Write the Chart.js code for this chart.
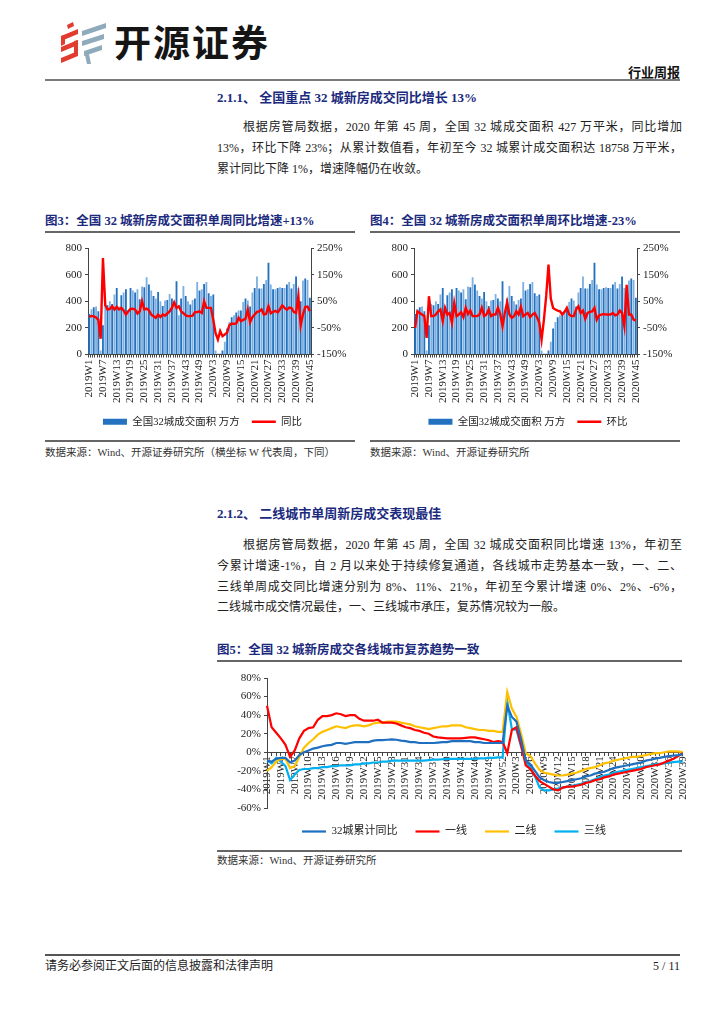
<!DOCTYPE html>
<html>
<head>
<meta charset="utf-8">
<script src="https://cdn.jsdelivr.net/npm/chart.js@4.4.0/dist/chart.umd.min.js"></script>
<style>
  body { margin: 0; width: 724px; height: 1024px; background: #fff; position: relative; overflow: hidden;
         font-family: "Liberation Serif", "Noto Sans CJK SC", serif; color: #222; }
  .abs { position: absolute; }
  .rule { position: absolute; background: #666; }
  .head { position: absolute; left: 217px; font-size: 13px; font-weight: bold; color: #1b2a7d; line-height: 16px; white-space: nowrap; }
  .fig { position: absolute; font-size: 12.5px; font-weight: bold; color: #1b2a7d; line-height: 16px; white-space: nowrap; }
  .txt { position: absolute; left: 217px; width: 465px; font-size: 12px; line-height: 14px;
         text-align: justify; text-align-last: justify; }
  .txt.last { text-align-last: left; }
  .src { position: absolute; font-size: 10.5px; line-height: 13px; color: #333; white-space: nowrap; }
</style>
</head>
<body>

<!-- header -->
<svg class="abs" style="left:58px;top:20px" width="52" height="46" viewBox="0 0 52 46">
  <polygon points="9,5 15,2 16,6 10,9" fill="#e23b2f"/>
  <polygon points="3,16 20,9 20,14 3,21" fill="#e23b2f"/>
  <polygon points="3,16 7,15 7,24 3,26" fill="#e23b2f"/>
  <polygon points="3,27 20,20 20,25 3,32" fill="#e23b2f"/>
  <polygon points="16,21 20,20 20,33 16,35" fill="#e23b2f"/>
  <polygon points="3,38 20,31 20,36 3,43" fill="#e23b2f"/>
  <polygon points="24,11 48,3 48,8 24,16" fill="#8eaabb"/>
  <polygon points="24,21 46,14 46,19 24,26" fill="#8eaabb"/>
  <polygon points="26,31 44,25 44,30 26,36" fill="#8eaabb"/>
  <polygon points="27,35 31,34 33,44 29,44" fill="#8eaabb"/>
</svg>
<div class="abs" style="left:114px;top:19px;font-family:'Noto Sans CJK SC';font-weight:bold;font-size:37px;line-height:44px;letter-spacing:2px;color:#151515">开源证券</div>
<div class="abs" style="right:44px;top:64px;font-family:'Noto Sans CJK SC';font-weight:bold;font-size:13px;line-height:16px;color:#111">行业周报</div>
<div class="rule" style="left:45px;top:79px;width:635px;height:2px;background:#7a7a7a"></div>

<!-- section 2.1.1 -->
<div class="head" style="top:90px">2.1.1、 全国重点 32 城新房成交同比增长 13%</div>
<div class="txt" style="top:120px;text-indent:26px">根据房管局数据，2020 年第 45 周，全国 32 城成交面积 427 万平米，同比增加</div>
<div class="txt" style="top:141px">13%，环比下降 23%；从累计数值看，年初至今 32 城累计成交面积达 18758 万平米，</div>
<div class="txt last" style="top:162px">累计同比下降 1%，增速降幅仍在收敛。</div>

<div class="fig" style="left:45px;top:213px">图3：全国 32 城新房成交面积单周同比增速+13%</div>
<div class="fig" style="left:370px;top:213px">图4：全国 32 城新房成交面积单周环比增速-23%</div>
<div class="rule" style="left:45px;top:231px;width:310px;height:1.5px"></div>
<div class="rule" style="left:370px;top:231px;width:310px;height:1.5px"></div>

<canvas id="chartYoy" class="abs" style="left:45px;top:236px" width="315" height="201"></canvas>
<canvas id="chartWow" class="abs" style="left:370px;top:236px" width="316" height="201"></canvas>

<div class="rule" style="left:45px;top:440px;width:310px;height:1.5px"></div>
<div class="rule" style="left:370px;top:440px;width:310px;height:1.5px"></div>
<div class="src" style="left:45px;top:446px">数据来源：Wind、开源证券研究所（横坐标 W 代表周，下同）</div>
<div class="src" style="left:370px;top:446px">数据来源：Wind、开源证券研究所</div>

<!-- section 2.1.2 -->
<div class="head" style="top:506px">2.1.2、 二线城市单周新房成交表现最佳</div>
<div class="txt" style="top:538px;text-indent:26px">根据房管局数据，2020 年第 45 周，全国 32 城成交面积同比增速 13%，年初至</div>
<div class="txt" style="top:559px">今累计增速-1%，自 2 月以来处于持续修复通道，各线城市走势基本一致，一、二、</div>
<div class="txt" style="top:580px">三线单周成交同比增速分别为 8%、11%、21%，年初至今累计增速 0%、2%、-6%，</div>
<div class="txt last" style="top:600px">二线城市成交情况最佳，一、三线城市承压，复苏情况较为一般。</div>

<div class="fig" style="left:217px;top:642px">图5：全国 32 城新房成交各线城市复苏趋势一致</div>
<div class="rule" style="left:217px;top:660px;width:465px;height:1.5px"></div>

<canvas id="chartTier" class="abs" style="left:217px;top:668px" width="480" height="179"></canvas>

<div class="rule" style="left:217px;top:850px;width:465px;height:1.5px"></div>
<div class="src" style="left:217px;top:854px">数据来源：Wind、开源证券研究所</div>

<!-- footer -->
<div class="rule" style="left:45px;top:954px;width:635px;height:2px;background:#555"></div>
<div class="abs" style="left:45px;top:959px;font-size:12px;line-height:14px;color:#222">请务必参阅正文后面的信息披露和法律声明</div>
<div class="abs" style="right:44px;top:959px;font-size:12px;line-height:14px;color:#222">5 / 11</div>

<script>
// 周度标签：2019W1 ~ 2020W45
const weekLabels = [];
for (let w = 1; w <= 52; w++) weekLabels.push('2019W' + w);
for (let w = 1; w <= 45; w++) weekLabels.push('2020W' + w);

// 全国32城成交面积（万方）
const area2019 = [305, 340, 355, 360, 325, 30, 220, 380, 370, 400,
                  380, 450, 500, 360, 445, 465, 490, 330, 500, 480,
                  465, 490, 415, 510, 505, 580, 525, 480, 440, 420,
                  470, 400, 365, 405, 410, 455, 420, 400, 550, 295,
                  420, 515, 440, 400, 375, 410, 420, 545, 480, 490,
                  530, 545];
const area2020 = [460, 440, 450, 30, 5, 8, 30, 95, 195, 245,
                  280, 295, 315, 330, 330, 395, 420, 405, 360, 465,
                  500, 585, 495, 495, 530, 560, 690, 525, 490, 490,
                  500, 505, 500, 500, 525, 545, 495, 530, 585, 500,
                  400, 555, 570, 560, 427];
const areaValues = area2019.concat(area2020);

// 单周同比（%）
const yoyValues = [-9, -5, -7, -11, -20, -91, 212, 35, 19, 21,
                   31, 19, 29, 19, 25, 15, 0, 12, 21, 22,
                   19, 4, 12, 50, 19, 22, 16, 0, -6, -12,
                   0, -9, 0, -4, 4, 12, 25, 46, 25, 31,
                   12, 5, -3, -6, -6, -4, 9, 9, 12, 6,
                   50, 25,
                   25, 25, -20, -70, -94, -62, -81, -75, -68, -40,
                   -34, -35, -33, -12, -25, -20, -16, 19, -29, -10,
                   0, 10, 12, 19, 0, 3, 31, 5, 10, 14,
                   8, 20, 34, 25, 18, 26, 24, 10, 6, 69,
                   -41, 0, 28, 30, 13];

// 单周环比（%）
const wowValues = [-50, 12, 6, 0, -6, -88, 69, -6, -6, 0,
                   12, 19, -25, 25, 0, 6, -31, 44, -6, 0,
                   9, -10, 25, 2, 15, -6, -6, -6, 0, 25,
                   -6, 0, 19, -6, 0, 0, 25, 2, -44, 6,
                   46, 0, -12, -6, 12, 0, 29, -6, 0, 6,
                   -10, 0, 6, -10, -30, -94, -20, 70, 188, 60,
                   25, 19, 15, 12, 0, 10, 25, 0, -6, -6,
                   19, 31, 6, 15, -16, 6, 10, 12, 25, -19,
                   -3, 0, 2, 0, 0, 0, 6, -3, 0, 15,
                   6, -44, 112, 0, 0, -19, -23];

const leftTicks = [0, 800, 100];
const rightTicks = [-150, 250, 50];

// 各线城市累计同比：2019W1 ~ 2020W39
const tierLabels = [];
for (let w = 1; w <= 52; w++) tierLabels.push('2019W' + w);
for (let w = 1; w <= 39; w++) tierLabels.push('2020W' + w);

const cum32 = [-9, -10, -7, -6, -6, -11, -9, -3, 0, 2,
               4, 5, 6.5, 7.5, 8, 10, 10, 9, 10, 11,
               11, 11, 11, 12.5, 13, 13, 13.5, 14, 13.5, 12.5,
               12, 11, 11, 10, 10, 10, 10, 10.5, 11, 11,
               12, 12, 12, 12, 12, 11, 11, 10, 10, 10,
               10, 10, 50, 38, 33, 14, -9, -13, -20, -27,
               -30, -32, -33, -33, -32, -31, -30, -29, -28, -26,
               -25, -23, -22, -21, -19, -17, -16, -15, -14, -13,
               -12, -11, -9, -8, -7, -6, -5, -4, -3.5, -3,
               -2];
const tier1 = [50, 27, 21, 15, 8, -5, 2, 15, 23, 26,
               27, 35, 39, 39, 40, 42, 41, 39, 40, 40,
               36, 34, 34, 34, 35, 32, 32, 32, 31, 29,
               27, 26, 24, 23, 21, 20, 17, 16, 15.5, 15,
               15, 15, 15, 15.5, 16, 16, 15, 14, 13, 11,
               12, 11, -1, 24, 27, 8, -14, -18, -25, -31,
               -34, -37, -40, -41, -38, -37, -37, -36, -35, -33,
               -32, -30, -29, -27, -26, -24, -23, -22, -21, -20,
               -19, -18, -16, -15, -14, -13, -11, -9, -7, -4,
               -1];
const tier2 = [-20, -16, -10, -7, -7, -17, -15, -5, 5, 10,
               14, 19, 22, 24, 26, 28, 27, 26, 28, 29,
               29, 28, 29, 31, 32, 32, 33, 33, 33, 32,
               31, 30, 28, 27, 26, 25, 26, 27, 28, 28,
               29, 29, 29, 27, 26, 25, 24, 24, 23, 23,
               22, 22, 65, 47, 38, 20, -1, -4, -12, -19,
               -22, -23, -24, -25, -25, -24, -23, -22, -20, -18,
               -17, -16, -14, -12, -11, -9, -8, -7, -6, -5,
               -5, -4, -3, -2, -1, -1, 0, 1, 1, 1,
               0];
const tier3 = [-9, -12, -6, -10, -15, -30, -24, -19, -18, -18,
               -17, -17, -16, -16, -15, -15, -14, -14, -14, -13,
               -13, -12, -12, -11, -11, -10, -10, -9, -9, -9,
               -9, -9, -9, -9, -9, -8.5, -8, -8, -7.5, -7,
               -7, -7, -7, -7, -7, -7, -6.5, -6.5, -6, -6,
               -5.5, -5.5, 55, 25, 24, 6, -11, -16, -26, -38,
               -41, -41, -40, -39, -38, -37, -36, -35, -34, -32,
               -31, -29, -27, -25, -24, -22, -21, -20, -19, -18,
               -17, -16, -15, -14, -13, -12.5, -12, -11, -10.5, -10,
               -10];
const tierTicks = [-60, 80, 20];

Chart.defaults.font.family = '"Liberation Serif", "Noto Sans CJK SC", serif';
Chart.defaults.font.size = 11;
Chart.defaults.color = '#222';
Chart.defaults.animation = false;

const axisLine = { display: true, drawOnChartArea: false, drawTicks: true, tickLength: 3, color: '#444' };

function weeklyChart(id, lineLabel, lineValues, leftWidth, rightWidth) {
    new Chart(document.getElementById(id), {
        data: {
            labels: weekLabels,
            datasets: [{
                type: 'line',
                label: lineLabel,
                data: lineValues,
                yAxisID: 'y1',
                borderColor: '#ff0000',
                backgroundColor: '#ff0000',
                borderWidth: 2.4,
                pointRadius: 0,
                pointStyle: 'line',
                tension: 0
            }, {
                type: 'bar',
                label: '全国32城成交面积 万方',
                data: areaValues,
                yAxisID: 'y',
                backgroundColor: c => c.dataIndex % 2 ? '#7eb0e0' : '#2371bf',
                pointStyle: 'rect',
                barPercentage: 0.8,
                categoryPercentage: 1
            }]
        },
        options: {
            responsive: false,
            layout: { padding: { top: 12, left: 0, right: 0, bottom: 0 } },
            plugins: {
                tooltip: { enabled: false },
                legend: {
                    position: 'bottom',
                    labels: {
                        usePointStyle: true,
                        pointStyleWidth: 24,
                        boxHeight: 6,
                        padding: 12,
                        font: { size: 10.5 },
                        sort: (a, b) => b.datasetIndex - a.datasetIndex
                    }
                }
            },
            scales: {
                x: {
                    grid: axisLine,
                    border: { color: '#444' },
                    ticks: {
                        autoSkip: false, maxRotation: 90, minRotation: 90, padding: 2,
                        callback: function(v, i) { return i % 6 === 0 ? this.getLabelForValue(v) : ''; }
                    },
                    afterFit: s => { s.height = 50; }
                },
                y: {
                    position: 'left',
                    min: leftTicks[0], max: leftTicks[1],
                    ticks: { stepSize: leftTicks[2], padding: 3 },
                    grid: axisLine,
                    border: { color: '#444' },
                    afterFit: s => { s.width = leftWidth; }
                },
                y1: {
                    position: 'right',
                    min: rightTicks[0], max: rightTicks[1],
                    ticks: { stepSize: rightTicks[2], padding: 3, callback: v => v + '%' },
                    grid: axisLine,
                    border: { color: '#444' },
                    afterFit: s => { s.width = rightWidth; }
                }
            }
        }
    });
}

weeklyChart('chartYoy', '同比', yoyValues, 43, 49);
weeklyChart('chartWow', '环比', wowValues, 44, 49);

const tierSeries = [
    { label: '32城累计同比', data: cum32, color: '#1f6fc1' },
    { label: '一线', data: tier1, color: '#ff0000' },
    { label: '二线', data: tier2, color: '#ffc000' },
    { label: '三线', data: tier3, color: '#00b0f0' }
];

new Chart(document.getElementById('chartTier'), {
    type: 'line',
    data: {
        labels: tierLabels,
        datasets: tierSeries.map(s => ({
            label: s.label,
            data: s.data,
            borderColor: s.color,
            backgroundColor: s.color,
            borderWidth: 2.2,
            pointRadius: 0,
            pointStyle: 'line',
            tension: 0
        }))
    },
    options: {
        responsive: false,
        layout: { padding: { top: 10, left: 0, right: 6, bottom: 0 } },
        plugins: {
            tooltip: { enabled: false },
            legend: {
                position: 'bottom',
                labels: { usePointStyle: true, pointStyleWidth: 24, padding: 18, font: { size: 11 } }
            }
        },
        scales: {
            x: {
                position: { y: 0 },
                grid: axisLine,
                border: { color: '#444' },
                ticks: {
                    autoSkip: false, maxRotation: 90, minRotation: 90, padding: 1,
                    callback: function(v, i) { return i % 3 === 0 ? this.getLabelForValue(v) : ''; }
                }
            },
            y: {
                min: tierTicks[0], max: tierTicks[1],
                ticks: { stepSize: tierTicks[2], padding: 3, callback: v => v + '%' },
                grid: axisLine,
                border: { color: '#444' },
                afterFit: s => { s.width = 50; }
            }
        }
    }
});
</script>
</body>
</html>
